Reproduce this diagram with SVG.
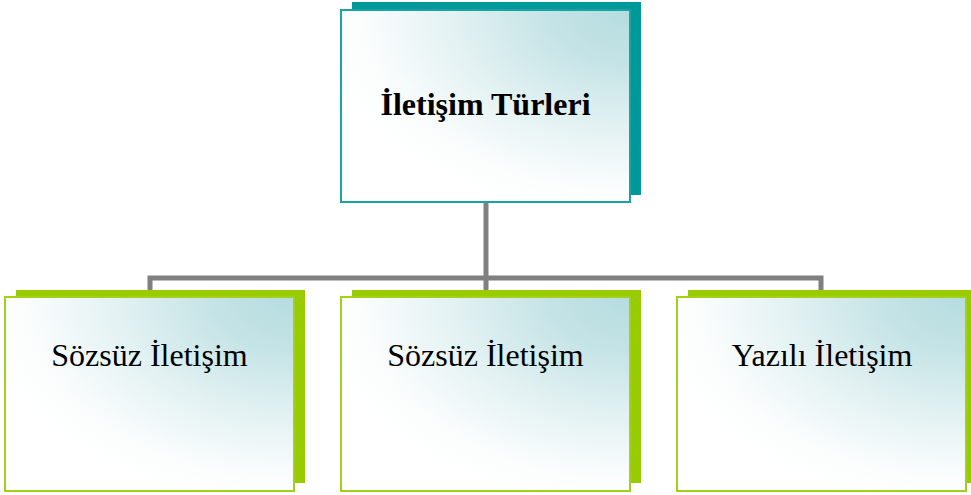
<svg xmlns="http://www.w3.org/2000/svg" width="971" height="495" viewBox="0 0 971 495">
<defs>
<radialGradient id="g" cx="1" cy="0" r="1.1" gradientUnits="objectBoundingBox">
<stop offset="0" stop-color="#B5DCDF"/>
<stop offset="0.25" stop-color="#C4E3E6"/>
<stop offset="0.55" stop-color="#E2F1F2"/>
<stop offset="0.85" stop-color="#FBFDFD"/>
<stop offset="1" stop-color="#FFFFFF"/>
</radialGradient>
<style>
.sh-t{fill:#009999}
.sh-g{fill:#99CC00}
.fr-t{fill:url(#g);stroke:#1AA3A3;stroke-width:2}
.fr-g{fill:url(#g);stroke:#A3D11A;stroke-width:2}
.lbl{font-family:"Liberation Serif","Times New Roman",serif;font-size:32px;fill:#000;text-anchor:middle}
.b{font-weight:bold}
.con{fill:none;stroke:#808080;stroke-width:5}
</style>
</defs>
<rect width="971" height="495" fill="#FFFFFF"/>
<g id="connectors">
<path class="con" d="M486,200 V278"/>
<path class="con" d="M150,292 V278 H821 V292 M486,278 V292"/>
</g>
<g id="node-top">
<rect class="sh-t" x="352" y="2" width="289" height="193"/>
<rect class="fr-t" x="341" y="10" width="289" height="192"/>
<text class="lbl b" x="485.5" y="115">İletişim Türleri</text>
</g>
<g id="node-left">
<rect class="sh-g" x="16" y="290" width="289" height="193"/>
<rect class="fr-g" x="5" y="297" width="289" height="194"/>
<text class="lbl" x="149.5" y="366">Sözsüz İletişim</text>
</g>
<g id="node-middle">
<rect class="sh-g" x="352" y="290" width="289" height="193"/>
<rect class="fr-g" x="341" y="297" width="289" height="194"/>
<text class="lbl" x="485.5" y="366">Sözsüz İletişim</text>
</g>
<g id="node-right">
<rect class="sh-g" x="688" y="290" width="283" height="193"/>
<rect class="fr-g" x="677" y="297" width="289" height="194"/>
<text class="lbl" x="822" y="366">Yazılı İletişim</text>
</g>
</svg>
